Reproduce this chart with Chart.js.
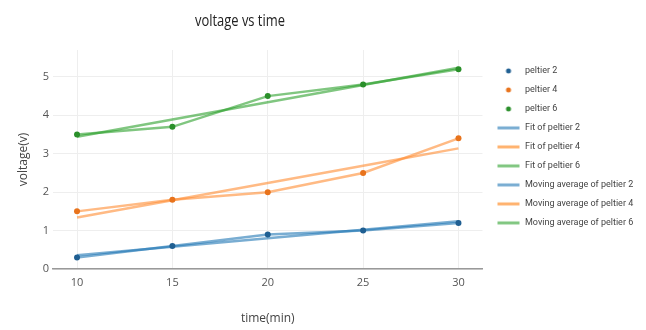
<!DOCTYPE html>
<html>
<head>
<meta charset="utf-8">
<script src="https://cdn.jsdelivr.net/npm/chart.js@4"></script>
<style>
  html, body { margin: 0; padding: 0; background: #fff; }
  #wrap { position: relative; width: 646px; height: 330px; }
  #title { position: absolute; left: 195px; top: 8px; font-family: "Open Sans", sans-serif; font-size: 17px; color: #222; white-space: nowrap; transform: scaleX(0.76); transform-origin: 0 0; }
  canvas { position: absolute; left: 0; top: 0; }
</style>
</head>
<body>
<div id="wrap">
  <canvas id="c" width="646" height="330"></canvas>
  <div id="title">voltage vs time</div>
</div>
<script>
const times = [10, 15, 20, 25, 30];
const peltier2 = [0.3, 0.6, 0.9, 1.0, 1.2];
const peltier4 = [1.5, 1.8, 2.0, 2.5, 3.4];
const peltier6 = [3.5, 3.7, 4.5, 4.8, 5.2];
const fit2 = [0.36, 0.58, 0.80, 1.02, 1.24];
const fit4 = [1.34, 1.79, 2.24, 2.69, 3.14];
const fit6 = [3.44, 3.89, 4.34, 4.79, 5.24];
const movAvg2 = [0.3, 0.6, 0.9, 1.0, 1.2];
const movAvg4 = [1.5, 1.8, 2.0, 2.5, 3.4];
const movAvg6 = [3.5, 3.7, 4.5, 4.8, 5.2];
const yTicks = [0, 1, 2, 3, 4, 5];
const xTicks = [10, 15, 20, 25, 30];

const FONT = "'Open Sans', sans-serif";
const LFONT = "Roboto, sans-serif";
const pts = (ys) => times.map((t, i) => ({x: t, y: ys[i]}));

const blueM = '#1f5f92', orangeM = '#e8731c', greenM = '#2a8f2a';
const blueL = 'rgba(31,119,180,0.6)', orangeL = 'rgba(255,140,50,0.6)', greenL = 'rgba(44,160,44,0.6)';

function markerDs(label, ys, col) {
  return { label, data: pts(ys), showLine: false, pointRadius: 3, pointHoverRadius: 3,
    backgroundColor: col, borderColor: col, pointBorderWidth: 0, order: 0 };
}
function lineDs(label, ys, col) {
  return { label, data: pts(ys), showLine: true, pointRadius: 0, borderColor: col,
    backgroundColor: col, borderWidth: 2.5, tension: 0, order: 1 };
}

function makeIcon(kind, col) {
  const cv = document.createElement('canvas');
  cv.width = 28; cv.height = 10;
  const g = cv.getContext('2d');
  if (kind === 'dot') {
    g.fillStyle = col; g.beginPath(); g.arc(16, 5, 2.5, 0, Math.PI * 2); g.fill();
  } else {
    g.strokeStyle = col; g.lineWidth = 3; g.beginPath(); g.moveTo(5, 5); g.lineTo(27, 5); g.stroke();
  }
  return cv;
}
const icons = [
  makeIcon('dot', blueM), makeIcon('dot', orangeM), makeIcon('dot', greenM),
  makeIcon('line', 'rgba(31,119,180,0.6)'), makeIcon('line', 'rgba(255,127,14,0.6)'), makeIcon('line', 'rgba(44,160,44,0.6)'),
  makeIcon('line', 'rgba(31,119,180,0.6)'), makeIcon('line', 'rgba(255,127,14,0.6)'), makeIcon('line', 'rgba(44,160,44,0.6)')
];

new Chart(document.getElementById('c'), {
  type: 'scatter',
  data: {
    datasets: [
      markerDs('peltier 2', peltier2, blueM),
      markerDs('peltier 4', peltier4, orangeM),
      markerDs('peltier 6', peltier6, greenM),
      lineDs('Fit of peltier 2', fit2, blueL),
      lineDs('Fit of peltier 4', fit4, orangeL),
      lineDs('Fit of peltier 6', fit6, greenL),
      lineDs('Moving average of peltier 2', movAvg2, blueL),
      lineDs('Moving average of peltier 4', movAvg4, orangeL),
      lineDs('Moving average of peltier 6', movAvg6, greenL)
    ]
  },
  options: {
    responsive: false,
    animation: false,
    layout: { padding: { top: 50, left: 16, right: 8, bottom: 0 } },
    plugins: {
      title: { display: false },
      tooltip: { enabled: false },
      legend: {
        position: 'right',
        align: 'start',
        title: { display: true, text: ' ', font: { size: 2 }, padding: { top: 4, bottom: 0 } },
        labels: {
          usePointStyle: true,
          pointStyleWidth: 28,
          padding: 10,
          color: '#444',
          font: { family: LFONT, size: 9 },
          generateLabels(chart) {
            const items = Chart.defaults.plugins.legend.labels.generateLabels(chart);
            items.forEach((it, i) => { it.pointStyle = icons[i]; });
            return items;
          }
        }
      }
    },
    scales: {
      x: {
        type: 'linear', min: 8.74, max: 31.26,
        afterBuildTicks(s) { s.ticks = xTicks.map(v => ({value: v})); },
        afterFit(s) { s.height = 61; },
        grid: { color: '#eeeeee', drawTicks: false },
        border: { color: '#999', width: 1.5 },
        ticks: { color: '#555', font: { family: FONT, size: 11 }, padding: 7 },
        title: { display: true, text: 'time(min)', color: '#444', font: { family: FONT, size: 12 }, padding: { top: 0, bottom: 4 } }
      },
      y: {
        type: 'linear', min: 0, max: 5.7,
        afterBuildTicks(s) { s.ticks = yTicks.map(v => ({value: v})); },
        afterFit(s) { s.width = 37; },
        grid: { color: '#eeeeee', drawTicks: false },
        border: { display: false },
        ticks: { color: '#555', font: { family: FONT, size: 11 }, padding: 4 },
        title: { display: true, text: 'voltage(v)', color: '#444', font: { family: FONT, size: 12 }, padding: { top: 0, bottom: 0 } }
      }
    }
  }
});
</script>
</body>
</html>
